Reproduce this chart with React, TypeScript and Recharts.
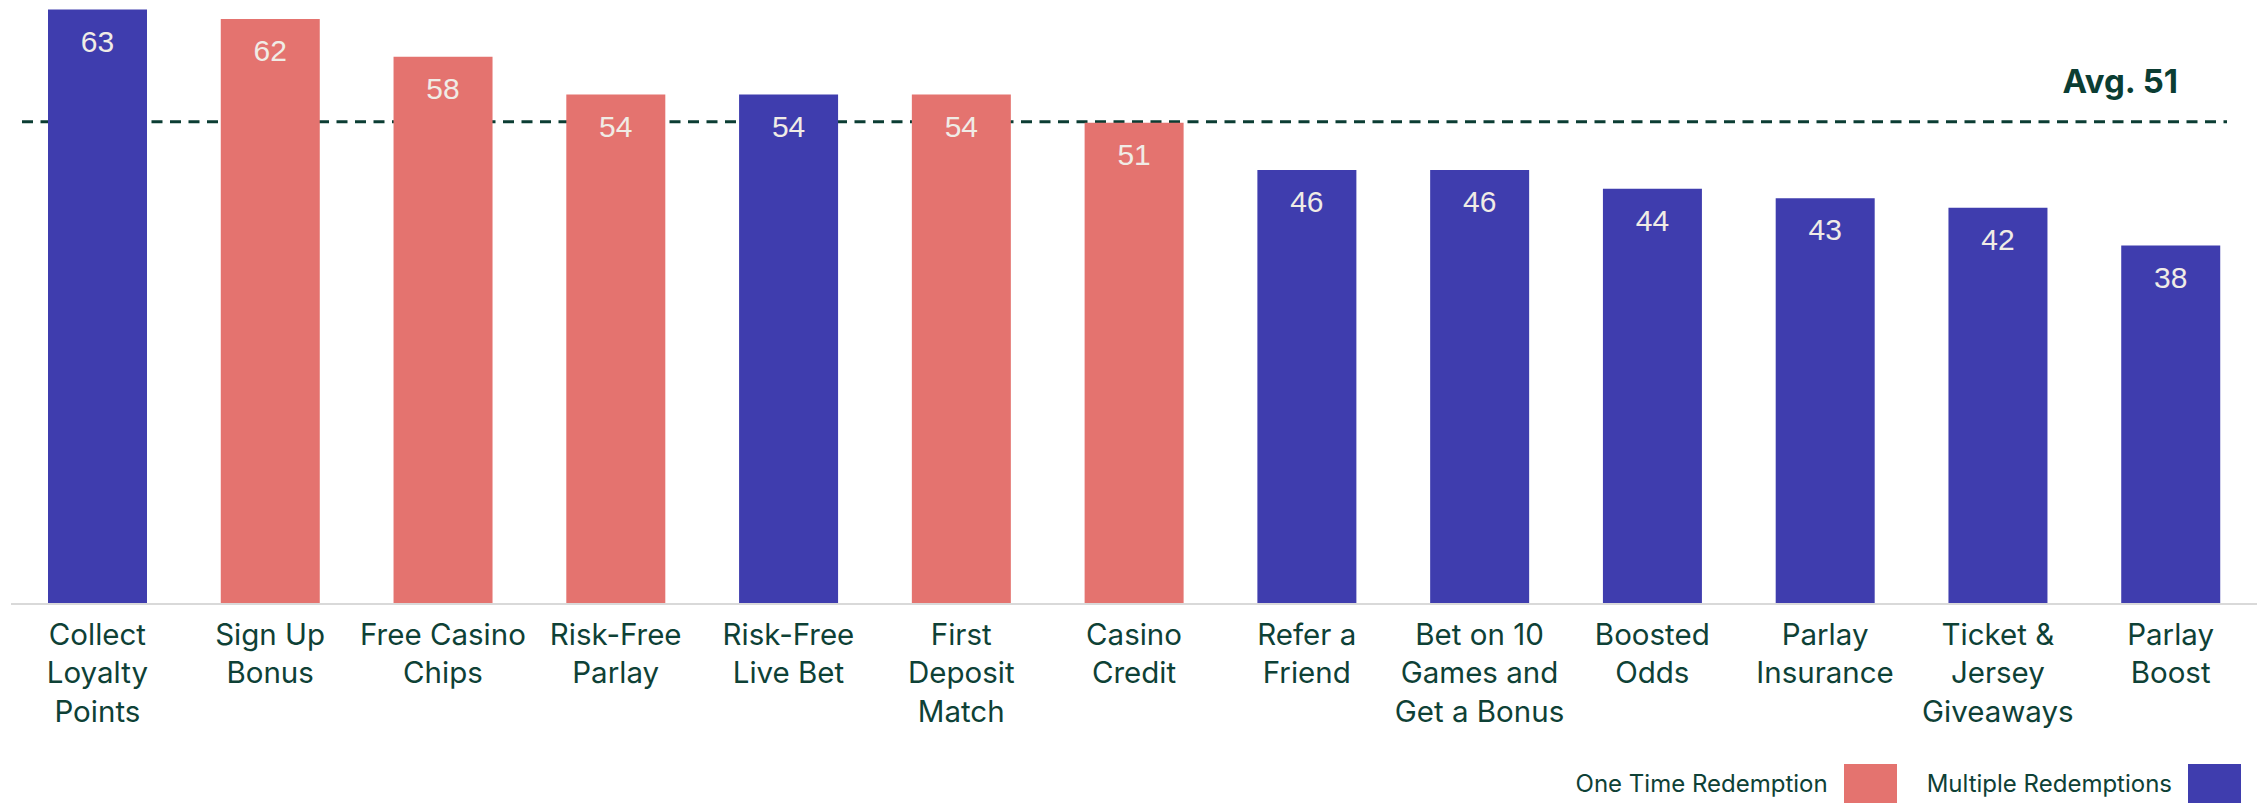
import { BarChart, Bar, XAxis, YAxis, Cell, LabelList, ReferenceLine, Legend } from "recharts";

const categories = [
  "Collect Loyalty Points",
  "Sign Up Bonus",
  "Free Casino Chips",
  "Risk-Free Parlay",
  "Risk-Free Live Bet",
  "First Deposit Match",
  "Casino Credit",
  "Refer a Friend",
  "Bet on 10 Games and Get a Bonus",
  "Boosted Odds",
  "Parlay Insurance",
  "Ticket & Jersey Giveaways",
  "Parlay Boost",
];

// how each label wraps under its bar
const tickLines = [
  ["Collect", "Loyalty", "Points"],
  ["Sign Up", "Bonus"],
  ["Free Casino", "Chips"],
  ["Risk-Free", "Parlay"],
  ["Risk-Free", "Live Bet"],
  ["First", "Deposit", "Match"],
  ["Casino", "Credit"],
  ["Refer a", "Friend"],
  ["Bet on 10", "Games and", "Get a Bonus"],
  ["Boosted", "Odds"],
  ["Parlay", "Insurance"],
  ["Ticket &", "Jersey", "Giveaways"],
  ["Parlay", "Boost"],
];

const values = [63, 62, 58, 54, 54, 54, 51, 46, 46, 44, 43, 42, 38];

// "one" = One Time Redemption, "multi" = Multiple Redemptions
const redemptionType = ["multi", "one", "one", "one", "multi", "one", "one", "multi", "multi", "multi", "multi", "multi", "multi"];

const avgValue = 51.1;

const colors = { one: "#e4736f", multi: "#3f3dae" };
const textGreen = "#0e4136";
const lineGreen = "#0b3d33";

const legendItems = [
  { label: "One Time Redemption", key: "one" },
  { label: "Multiple Redemptions", key: "multi" },
];

const data = categories.map((name, i) => ({
  name,
  value: values[i],
  type: redemptionType[i],
}));

function MultiLineTick(props: any) {
  const { x, y, index } = props;
  const lines = tickLines[index] || [props.payload.value];
  return (
    <text
      x={x}
      y={y}
      textAnchor="middle"
      fill={textGreen}
      fontFamily="Inter, sans-serif"
      fontSize={29.5}
    >
      {lines.map((l: string, i: number) => (
        <tspan key={i} x={x} y={y + 41 + i * 38.4}>
          {l}
        </tspan>
      ))}
    </text>
  );
}

function AvgLine(props: any) {
  const { x1, x2, y1, y2 } = props;
  return (
    <line
      x1={x1 + 11}
      x2={x2 - 30}
      y1={y1}
      y2={y2}
      stroke={lineGreen}
      strokeWidth={3}
      strokeDasharray="11 7.5"
    />
  );
}

function AvgLabel(props: any) {
  const { viewBox } = props;
  return (
    <text
      x={viewBox.x + viewBox.width - 79}
      y={viewBox.y - 29}
      textAnchor="end"
      fill={lineGreen}
      fontFamily="Inter, sans-serif"
      fontWeight={700}
      fontSize={33}
    >
      {`Avg. ${Math.round(avgValue)}`}
    </text>
  );
}

function LegendBox() {
  return (
    <div
      style={{
        display: "flex",
        justifyContent: "flex-end",
        alignItems: "center",
        gap: 30,
        paddingRight: 19,
        fontFamily: "Inter, sans-serif",
        fontSize: 24,
        color: textGreen,
      }}
    >
      {legendItems.map((it) => (
        <div key={it.key} style={{ display: "flex", alignItems: "center", gap: 16 }}>
          <span>{it.label}</span>
          <span
            style={{
              display: "inline-block",
              width: 53,
              height: 39,
              background: colors[it.key as "one" | "multi"],
            }}
          />
        </div>
      ))}
    </div>
  );
}

export default function App() {
  return (
    <div>
      <style>{"body{margin:0;background:#fff}"}</style>
      <BarChart
        width={2260}
        height={806}
        data={data}
        margin={{ top: 0, right: 3, bottom: 62, left: 11 }}
      >
        <XAxis
          dataKey="name"
          tick={<MultiLineTick />}
          tickLine={false}
          tickSize={0}
          tickMargin={0}
          interval={0}
          height={140}
          axisLine={{ stroke: "#d9d9d9", strokeWidth: 2 }}
        />
        <YAxis hide domain={[0, 64]} />
        <ReferenceLine
          y={avgValue}
          zIndex={0}
          shape={<AvgLine />}
          label={<AvgLabel />}
        />
        <Bar dataKey="value" barSize={99} isAnimationActive={false}>
          {data.map((d, i) => (
            <Cell key={i} fill={colors[d.type as "one" | "multi"]} />
          ))}
          <LabelList
            dataKey="value"
            position="insideTop"
            offset={21}
            fill="#f0ece6"
            fontFamily="Liberation Sans, Arial, sans-serif"
            fontSize={30}
          />
        </Bar>
        <Legend
          content={<LegendBox />}
          layout="horizontal"
          verticalAlign="middle"
          align="center"
          wrapperStyle={{ top: 764, left: 0, width: 2260, height: 39 }}
        />
      </BarChart>
    </div>
  );
}
